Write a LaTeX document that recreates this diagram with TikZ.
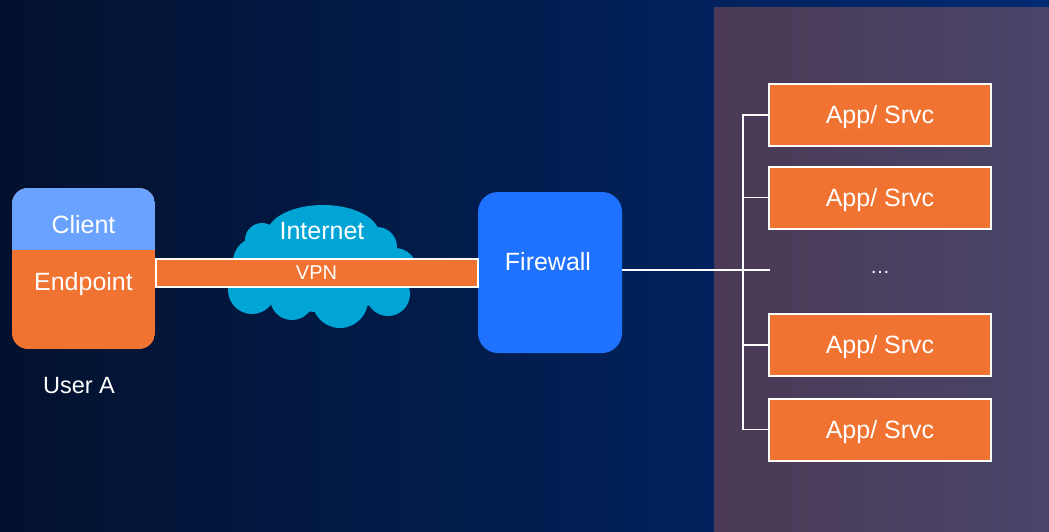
\documentclass[tikz,border=0pt]{standalone}
\usepackage{fontspec}
\setmainfont{Liberation Sans}
\begin{document}
\begin{tikzpicture}[x=1pt,y=-1pt,
  lbl/.style={text=white,font=\fontsize{25}{28}\selectfont,inner sep=0pt},
  appbox/.style={draw=white,line width=2pt,fill=apporange,minimum width=222pt,minimum height=62pt,
     text=white,font=\fontsize{25}{28}\selectfont,text height=17.9pt,text depth=0pt,inner sep=0pt},
  wire/.style={draw=white,line width=1.6pt}]
\definecolor{apporange}{HTML}{F07332}
\definecolor{clientblue}{HTML}{6AA2FF}
\definecolor{fwblue}{HTML}{1E72FF}
\definecolor{cloudcyan}{HTML}{00A5D5}
\definecolor{bgleft}{HTML}{03112E}
\definecolor{bgmid}{HTML}{001F55}
\definecolor{bgright}{HTML}{002A72}
\definecolor{panelleft}{HTML}{4A3A55}
\definecolor{panelright}{HTML}{4A4469}

% background
\useasboundingbox (0,0) rectangle (1049,532);
\shade[left color=bgleft,middle color=bgmid,right color=bgright] (0,0) rectangle (1049,532);
% services panel
\shade[left color=panelleft,right color=panelright] (714,8) rectangle (1049,532);

% internet cloud
\begin{scope}[fill=cloudcyan]
  \fill (323,234) ellipse (56 and 29);
  \fill (262,240) circle (17);
  \fill (377,247) circle (20);
  \fill (258,262) circle (25);
  \fill (395,270) circle (22);
  \fill (252,290) circle (24);
  \fill (292,298) circle (22);
  \fill (340,300) circle (28);
  \fill (388,294) circle (22);
  \fill (322,272) ellipse (85 and 40);
\end{scope}
\node[lbl] (internet) at (322,231) {Internet};

% user endpoint
\begin{scope}
  \clip[rounded corners=16pt] (12,188) rectangle (155,349);
  \fill[apporange] (12,188) rectangle (155,349);
  \fill[clientblue] (12,188) rectangle (155,250);
\end{scope}
\node[minimum width=143pt,minimum height=161pt,inner sep=0pt] (client) at (83.5,268.5) {};
\node[lbl] (clientlbl) at (83.5,225) {Client};
\node[lbl] (endpoint) at (83.5,284.5) {Endpoint};
\node[lbl,font=\fontsize{23.5}{26}\selectfont] (user) at (79,386) {User A};

% firewall
\node[fill=fwblue,rounded corners=20pt,minimum width=144pt,minimum height=161pt,inner sep=0pt] (fw) at (550,272.5) {};
\node[lbl] (fwlbl) at (548,262) {Firewall};

% vpn tunnel
\node[draw=white,line width=2pt,fill=apporange,minimum width=322pt,minimum height=28pt,inner sep=0pt,
  text=white,font=\fontsize{20}{22}\selectfont] (vpn) at (316.5,272.5) {VPN};

% applications
\node[appbox] (app1) at (880,115) {App/ Srvc};
\node[appbox] (app2) at (880,197.5) {App/ Srvc};
\node[appbox] (app3) at (880,345) {App/ Srvc};
\node[appbox] (app4) at (880,429.5) {App/ Srvc};
\node[text=white,font=\fontsize{20}{22}\selectfont,inner sep=0pt] (dots) at (880,272) {\dots};

% distribution
\coordinate (bus) at (743,270);
\coordinate (busend) at (770,270);
\draw[wire] (fw.east |- bus) -- (busend);
\draw[wire] (app1.west) -| (bus);
\draw[wire] (app4.west) -| (bus);
\draw[wire] (app2.west) -- (app2.west -| bus);
\draw[wire] (app3.west) -- (app3.west -| bus);
\end{tikzpicture}
\end{document}
